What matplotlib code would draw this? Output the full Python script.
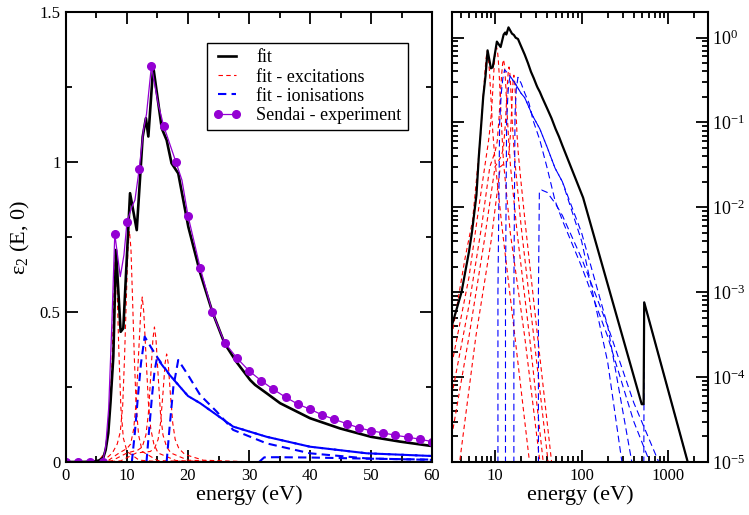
import numpy as np
import matplotlib
matplotlib.use('Agg')
import matplotlib.pyplot as plt
from matplotlib.ticker import MultipleLocator, LogLocator, NullFormatter, LogFormatterMathtext

plt.rcParams['font.family'] = ['Liberation Serif', 'DejaVu Serif']
plt.rcParams['mathtext.fontset'] = 'custom'
plt.rcParams['mathtext.rm'] = 'Liberation Serif'
plt.rcParams['mathtext.it'] = 'Liberation Serif:italic'

#total fit (black)
fit_e = [0, 2, 3.16, 4.1, 5.0, 5.4, 6.1, 6.5, 6.93, 7.3, 7.76, 8.2, 8.96, 9.4, 10.5, 11.6,
         12.57, 13.1, 13.5, 14.3, 15.7, 16.5, 17.3, 18.4, 20.05, 22, 24, 26, 28, 30.2, 31,
         32.9, 35.1, 40, 44.9, 50, 54.75, 59.7, 104, 494, 520, 528, 1680, 2200]
fit_eps = [0, 0, 4e-4, 1e-3, 3e-3, 5e-3, 0.014, 0.04, 0.096, 0.2, 0.351, 0.707, 0.434, 0.446,
           0.896, 0.773, 1.084, 1.146, 1.085, 1.318, 1.112, 1.073, 0.996, 0.962, 0.784, 0.63,
           0.50, 0.395, 0.332, 0.273, 0.257, 0.229, 0.196, 0.146, 0.112, 0.084, 0.068, 0.054,
           0.013, 4.8e-5, 4.8e-5, 7.6e-4, 1e-5, 4e-6]

#excitation terms (red)
exc1_e = [3.16, 4.5, 5.5, 6.3, 6.8, 7.2, 7.55, 7.85, 8.1, 8.35, 8.65, 9.0, 9.4, 10.0, 12, 16,
          25, 30]
exc1_eps = [3e-4, 2.5e-3, 7e-3, 0.03, 0.07, 0.17, 0.33, 0.55, 0.69, 0.6, 0.38, 0.18, 0.08,
            0.035, 6e-3, 5e-4, 1e-5, 3e-6]
exc2_e = [3.16, 5, 6.5, 7.6, 8.4, 8.9, 9.3, 9.6, 9.9, 10.15, 10.4, 10.65, 10.9, 11.2, 11.5,
          11.9, 12.5, 15, 22, 33, 40]
exc2_eps = [1.4e-4, 1.5e-3, 0.01, 0.03, 0.06, 0.1, 0.19, 0.35, 0.55, 0.71, 0.77, 0.71, 0.55,
            0.35, 0.19, 0.09, 0.035, 5e-3, 3e-4, 1e-5, 3e-6]
exc3_e = [3.16, 5, 7, 8.7, 10, 10.6, 11.1, 11.5, 11.9, 12.25, 12.5, 12.75, 13.1, 13.5, 13.9,
          14.4, 15.1, 18, 25, 36, 42]
exc3_eps = [6e-5, 7e-4, 6e-3, 0.03, 0.045, 0.06, 0.11, 0.2, 0.36, 0.5, 0.55, 0.5, 0.36, 0.2,
            0.11, 0.06, 0.03, 5e-3, 3e-4, 1e-5, 3e-6]
exc4_e = [3.16, 5, 7.5, 10, 11.8, 12.5, 13.1, 13.5, 13.9, 14.25, 14.5, 14.75, 15.1, 15.5,
          15.9, 16.5, 17.2, 20, 28, 41, 48]
exc4_eps = [2e-5, 3e-4, 4e-3, 0.03, 0.04, 0.05, 0.09, 0.16, 0.29, 0.41, 0.45, 0.41, 0.29,
            0.16, 0.09, 0.05, 0.03, 6e-3, 3e-4, 1e-5, 3e-6]
exc5_e = [3.5, 3.9, 6, 9, 11.5, 13.8, 14.5, 15.1, 15.5, 15.9, 16.25, 16.5, 16.75, 17.1, 17.5,
          17.9, 18.5, 19.5, 22.5, 31, 45, 52]
exc5_eps = [3e-6, 1e-5, 3e-4, 4e-3, 0.03, 0.035, 0.045, 0.075, 0.13, 0.23, 0.33, 0.36, 0.33,
            0.23, 0.13, 0.075, 0.045, 0.025, 6e-3, 3e-4, 1e-5, 3e-6]

#ionisation terms (blue)
ion1_e = [10.8, 10.8, 11.3, 11.8, 12.3, 12.9, 14, 15.1, 17, 20, 22, 27.4, 32.9, 40, 49.3, 60,
          100, 200, 292, 320]
ion1_eps = [0, 1e-3, 0.1, 0.22, 0.33, 0.418, 0.38, 0.345, 0.29, 0.22, 0.196, 0.118, 0.084,
            0.051, 0.029, 0.02, 4e-3, 1.5e-4, 1e-5, 4e-6]
ion2_e = [13.2, 13.2, 13.6, 14.1, 14.5, 14.9, 15.5, 17, 20, 22, 27.4, 32.9, 40, 49.3, 60,
          100, 200, 380, 420]
ion2_eps = [0, 1e-3, 0.1, 0.22, 0.3, 0.346, 0.33, 0.29, 0.22, 0.196, 0.118, 0.084, 0.051,
            0.029, 0.02, 5e-3, 4e-4, 1e-5, 5e-6]
ion3_e = [16.5, 16.5, 17.0, 17.6, 18.4, 20, 22, 24.7, 27.4, 32.9, 40, 49.3, 60, 100, 200,
          400, 800]
ion3_eps = [0, 1e-3, 0.12, 0.25, 0.34, 0.29, 0.223, 0.168, 0.107, 0.062, 0.029, 0.012, 7e-3,
            2e-3, 3e-4, 3e-5, 5e-6]
ion4_e = [31.7, 31.7, 32.5, 34.5, 40, 50, 60, 100, 200, 400, 777, 850]
ion4_eps = [0, 1e-3, 0.0155, 0.016, 0.015, 0.011, 0.008, 2.5e-3, 4e-4, 5e-5, 1e-5, 6e-6]
ion5_e = [520, 520, 528, 1680, 2200]
ion5_eps = [0, 1e-6, 7.6e-4, 1e-5, 4e-6]

#Sendai experiment (purple)
sendai_e = [0, 2, 4, 6, 6.5, 7, 7.5, 8, 8.9, 9.5, 10, 10.8, 11.3, 12, 12.7, 13.2, 14, 15.1,
            16, 16.8, 18, 19, 20, 22, 24, 26, 28, 30, 32, 34, 36, 38, 40, 42, 44, 46, 48,
            50, 52, 54, 56, 58, 60]
sendai_eps = [0, 0, 0, 0, 0.05, 0.18, 0.45, 0.76, 0.618, 0.69, 0.80, 0.851, 0.873, 0.976,
              1.107, 1.16, 1.32, 1.195, 1.121, 1.073, 1.001, 0.94, 0.821, 0.647, 0.499,
              0.398, 0.347, 0.304, 0.271, 0.242, 0.216, 0.193, 0.176, 0.157, 0.142, 0.128,
              0.114, 0.104, 0.097, 0.089, 0.083, 0.076, 0.068]

exc_sets = [(exc1_e, exc1_eps), (exc2_e, exc2_eps), (exc3_e, exc3_eps),
            (exc4_e, exc4_eps), (exc5_e, exc5_eps)]
ion_sets = [(ion1_e, ion1_eps), (ion2_e, ion2_eps), (ion3_e, ion3_eps),
            (ion4_e, ion4_eps), (ion5_e, ion5_eps)]

RED = '#ff0000'
BLUE = '#0000ff'
PURPLE = '#9400d3'


def style_axes(ax):
    for sp in ax.spines.values():
        sp.set_linewidth(1.5)
    ax.tick_params(which='both', direction='in', top=True, right=True, width=1.3,
                   labelsize=12, pad=4)
    ax.tick_params(which='major', length=8.5)
    ax.tick_params(which='minor', length=4.5)


def main():
    fig = plt.figure(figsize=(7.49, 5.15), dpi=100)
    ax1 = fig.add_axes([0.0881, 0.1029, 0.4887, 0.8738])
    ax2 = fig.add_axes([0.6031, 0.1029, 0.3425, 0.8738])

    #Left panel: linear scale
    for i, (e, v) in enumerate(exc_sets):
        ax1.plot(e, v, color=RED, lw=0.8, dashes=(4, 3),
                 label='fit - excitations' if i == 0 else None)
    for i, (e, v) in enumerate(ion_sets):
        ax1.plot(e, v, color=BLUE, lw=1.5, dashes=(4, 2.5),
                 label='fit - ionisations' if i == 0 else None)
    ax1.plot(fit_e, fit_eps, color='black', lw=1.9, label='fit')

    se = np.array(sendai_e)
    sv = np.array(sendai_eps)
    marks = np.where(np.isin(se, np.arange(0, 61, 2)))[0]
    ax1.plot(se, sv, color=PURPLE, lw=0.9, marker='o', ms=5.5, markevery=list(marks),
             label='Sendai - experiment')

    ax1.set_xlim(0, 60)
    ax1.set_ylim(0, 1.5)
    ax1.xaxis.set_major_locator(MultipleLocator(10))
    ax1.xaxis.set_minor_locator(MultipleLocator(5))
    ax1.yaxis.set_major_locator(MultipleLocator(0.5))
    ax1.yaxis.set_minor_locator(MultipleLocator(0.25))
    ax1.yaxis.set_major_formatter(plt.FuncFormatter(lambda v, p: '%g' % v))
    ax1.set_xlabel('energy (eV)', fontsize=16, labelpad=1)
    ax1.set_ylabel('ε$_2$ (E, 0)', fontsize=16, labelpad=5)
    style_axes(ax1)

    handles, labels = ax1.get_legend_handles_labels()
    order = [labels.index(s) for s in ['fit', 'fit - excitations', 'fit - ionisations',
                                       'Sendai - experiment']]
    leg = ax1.legend([handles[k] for k in order], [labels[k] for k in order],
                     loc='upper right', bbox_to_anchor=(0.934, 0.931), borderaxespad=0,
                     fontsize=13, fancybox=False, framealpha=1, edgecolor='black',
                     labelspacing=0.12, handlelength=1.6, handletextpad=0.8, numpoints=2,
                     borderpad=0.35)
    leg.get_frame().set_linewidth(1.0)

    #Right panel: log-log scale
    for e, v in exc_sets:
        ax2.plot(e, v, color=RED, lw=0.8, dashes=(4, 3))
    for e, v in ion_sets:
        ax2.plot(e, v, color=BLUE, lw=0.8, dashes=(6, 3.5))
    fe = np.array(fit_e)
    fv = np.array(fit_eps)
    m = fe > 0
    ax2.plot(fe[m], fv[m], color='black', lw=1.6)

    ax2.set_xscale('log')
    ax2.set_yscale('log')
    ax2.set_xlim(3.16, 2900)
    ax2.set_ylim(1e-5, 2)
    ax2.xaxis.set_major_locator(LogLocator(base=10, numticks=10))
    ax2.xaxis.set_minor_locator(LogLocator(base=10, subs=np.arange(2, 10), numticks=20))
    ax2.xaxis.set_major_formatter(plt.FuncFormatter(lambda v, p: '%d' % round(v)))
    ax2.xaxis.set_minor_formatter(NullFormatter())
    ax2.yaxis.set_major_locator(LogLocator(base=10, numticks=10))
    ax2.yaxis.set_minor_locator(LogLocator(base=10, subs=np.arange(2, 10), numticks=20))
    ax2.yaxis.set_major_formatter(LogFormatterMathtext())
    ax2.yaxis.set_minor_formatter(NullFormatter())
    style_axes(ax2)
    ax2.tick_params(which='both', labelleft=False, labelright=True)
    ax2.tick_params(axis='y', labelsize=13, pad=3)
    ax2.set_xlabel('energy (eV)', fontsize=16, labelpad=1)

    fig.savefig('out.png', dpi=100, facecolor='white')


if __name__ == '__main__':
    main()
